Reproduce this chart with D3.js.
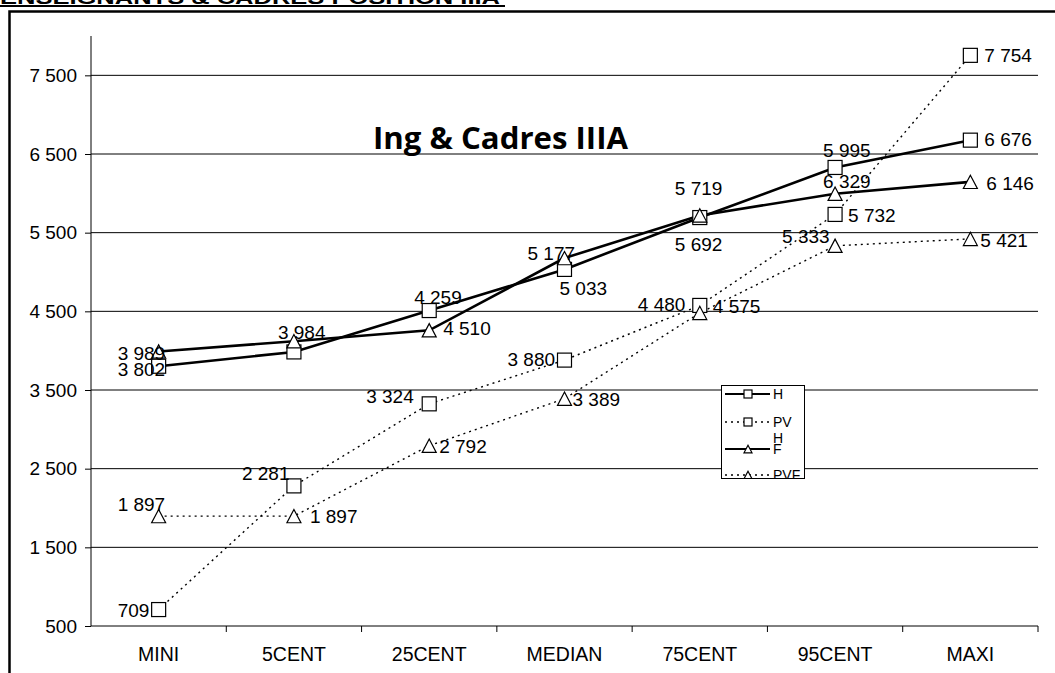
<!DOCTYPE html>
<html>
<head>
<meta charset="utf-8">
<script src="https://cdn.jsdelivr.net/npm/d3@7"></script>
<style>
  body { margin: 0; background: #fff; }
  svg { display: block; font-family: "Liberation Sans", Arial, sans-serif; }
</style>
</head>
<body>
<div id="vis"></div>
<script>
// data
const categories = ['MINI', '5CENT', '25CENT', 'MEDIAN', '75CENT', '95CENT', 'MAXI']
const yTicks = [500, 1500, 2500, 3500, 4500, 5500, 6500, 7500]

const hValues   = [3802, 3984, 4510, 5033, 5692, 6329, 6676]
const pvValues  = [709, 2281, 3324, 3880, 4575, 5732, 7754]
const hfValues  = [3989, 4120, 4259, 5177, 5719, 5995, 6146]
const pvfValues = [1897, 1897, 2792, 3389, 4480, 5333, 5421]

// the labels printed on the chart (some don't match their point)
const hLabels   = ['3 802', '3 984', '4 259', '5 033', '5 692', '5 995', '6 676']
const pvLabels  = ['709', '2 281', '3 324', '3 880', '4 575', '5 732', '7 754']
const hfLabels  = ['3 989', '', '4 510', '5 177', '5 719', '6 329', '6 146']
const pvfLabels = ['1 897', '1 897', '2 792', '3 389', '4 480', '5 333', '5 421']

// label placement relative to each point (layout only)
const labelOffsets = {
  H:   [[-41, 10], [-16, -13], [-15, -7], [-5, 26], [-25, 33], [-12, -10], [14, 6]],
  PV:  [[-41, 7], [-52, -6], [-63, -1], [-57, 6], [13, 8], [13, 8], [14, 7]],
  HF:  [[-41, 8], [0, 0], [14, 5], [-37, 2], [-25, -20], [-12, -6], [16, 8]],
  PVF: [[-41, -5], [16, 7], [10, 7], [8, 7], [-62, -2], [-53, -3], [10, 8]]
}

const series = [
  { name: 'H',   values: hValues,   labels: hLabels,   shape: 'square',   dotted: false },
  { name: 'PV',  values: pvValues,  labels: pvLabels,  shape: 'square',   dotted: true },
  { name: 'HF',  values: hfValues,  labels: hfLabels,  shape: 'triangle', dotted: false },
  { name: 'PVF', values: pvfValues, labels: pvfLabels, shape: 'triangle', dotted: true }
]

const W = 1055, H = 673
const plot = { left: 91, right: 1038, top: 36, bottom: 626 }

const svg = d3.select('#vis').append('svg')
  .attr('width', W).attr('height', H)

const x = d3.scaleBand().domain(categories).range([plot.left, plot.right]).padding(0)
const y = d3.scaleLinear().domain([500, 8000]).range([plot.bottom, plot.top])
const cx = c => x(c) + x.bandwidth() / 2

// cut-off heading at the very top + frame
svg.append('text')
  .attr('x', 0).attr('y', 3.5)
  .attr('font-size', 19).attr('font-weight', 'bold')
  .attr('textLength', 500).attr('lengthAdjust', 'spacingAndGlyphs')
  .text('ENSEIGNANTS & CADRES POSITION IIIA')
svg.append('rect').attr('x', 0).attr('y', 5).attr('width', 505).attr('height', 2).attr('fill', '#000')
svg.append('path').attr('d', `M9.5,${H} V11.5 H${W}`)
  .attr('fill', 'none').attr('stroke', '#000').attr('stroke-width', 2.5)

// gridlines
svg.append('g').selectAll('line')
  .data(yTicks.filter(t => t > 500))
  .join('line')
  .attr('x1', plot.left).attr('x2', plot.right)
  .attr('y1', d => y(d)).attr('y2', d => y(d))
  .attr('stroke', '#000').attr('stroke-width', 1)

// y axis
const yAxis = svg.append('g')
  .attr('transform', `translate(${plot.left},0)`)
  .call(d3.axisLeft(y).tickValues(yTicks).tickSize(6).tickPadding(8)
    .tickFormat(d => d3.format(',')(d).replace(',', ' ')))
yAxis.select('.domain').attr('d', `M0,${plot.top}V${plot.bottom}`).attr('stroke', '#000')
yAxis.selectAll('text').attr('font-size', 19).attr('font-family', '"Liberation Sans", Arial, sans-serif').attr('fill', '#000')

// x axis
const xAxis = svg.append('g')
  .attr('transform', `translate(0,${plot.bottom})`)
  .call(d3.axisBottom(x).tickSize(0).tickPadding(21))
xAxis.select('.domain').attr('d', `M${plot.left},0H${plot.right}`).attr('stroke', '#000')
xAxis.selectAll('text').attr('font-size', 19.5).attr('font-family', '"Liberation Sans", Arial, sans-serif').attr('fill', '#000')
xAxis.selectAll('.bound')
  .data(categories.map(c => x(c) + x.bandwidth()))
  .join('line').attr('class', 'bound')
  .attr('x1', d => d).attr('x2', d => d).attr('y1', 0).attr('y2', 6)
  .attr('stroke', '#000')

// lines
const line = d3.line().x((d, i) => cx(categories[i])).y(d => y(d))
series.forEach(s => {
  svg.append('path')
    .attr('d', line(s.values))
    .attr('fill', 'none').attr('stroke', '#000')
    .attr('stroke-width', s.dotted ? 1.4 : 2.6)
    .attr('stroke-dasharray', s.dotted ? '2,4' : null)
})

function marker(g, shape, size) {
  if (shape === 'square') {
    return g.append('rect')
      .attr('x', -size / 2).attr('y', -size / 2)
      .attr('width', size).attr('height', size)
      .attr('fill', '#fff').attr('stroke', '#000').attr('stroke-width', 1.2)
  }
  const h = size * 0.95
  return g.append('path')
    .attr('d', `M0,${-h / 2} L${size / 2},${h / 2} L${-size / 2},${h / 2} Z`)
    .attr('fill', '#fff').attr('stroke', '#000').attr('stroke-width', 1.2)
}

// markers
series.forEach(s => {
  s.values.forEach((v, i) => {
    const g = svg.append('g').attr('transform', `translate(${cx(categories[i])},${y(v)})`)
    marker(g, s.shape, 14)
  })
})

// data labels
series.forEach(s => {
  s.values.forEach((v, i) => {
    if (!s.labels[i]) return
    const off = labelOffsets[s.name][i]
    svg.append('text')
      .attr('x', cx(categories[i]) + off[0])
      .attr('y', y(v) + off[1])
      .attr('font-size', 19)
      .text(s.labels[i])
  })
})

// title
svg.append('text')
  .attr('x', 373).attr('y', 149)
  .attr('font-family', '"Open Sans", Lato, sans-serif')
  .attr('font-weight', 'bold').attr('font-size', 30)
  .attr('textLength', 255).attr('lengthAdjust', 'spacingAndGlyphs')
  .text('Ing & Cadres IIIA')

// legend
const lg = { x: 721, y: 385, w: 83, h: 93, rowY: [9, 37, 64, 90] }
svg.append('clipPath').attr('id', 'legclip')
  .append('rect').attr('x', lg.x).attr('y', lg.y).attr('width', lg.w).attr('height', lg.h)
svg.append('rect')
  .attr('x', lg.x + 0.5).attr('y', lg.y + 0.5).attr('width', lg.w).attr('height', lg.h)
  .attr('fill', '#fff').attr('stroke', '#000')
const legend = svg.append('g').attr('clip-path', 'url(#legclip)')
series.forEach((s, i) => {
  const ry = lg.y + lg.rowY[i]
  legend.append('line')
    .attr('x1', lg.x + 4).attr('x2', lg.x + 49).attr('y1', ry).attr('y2', ry)
    .attr('stroke', '#000').attr('stroke-width', s.dotted ? 1.4 : 2)
    .attr('stroke-dasharray', s.dotted ? '2,4' : null)
  const g = legend.append('g').attr('transform', `translate(${lg.x + 27},${ry})`)
  marker(g, s.shape, 8)
  if (s.name === 'HF') {
    legend.append('text').attr('x', lg.x + 52).attr('y', ry - 6).attr('font-size', 14).text('H')
    legend.append('text').attr('x', lg.x + 52).attr('y', ry + 5).attr('font-size', 14).text('F')
  } else {
    legend.append('text').attr('x', lg.x + 52).attr('y', ry + 5).attr('font-size', 14).text(s.name)
  }
})
</script>
</body>
</html>
